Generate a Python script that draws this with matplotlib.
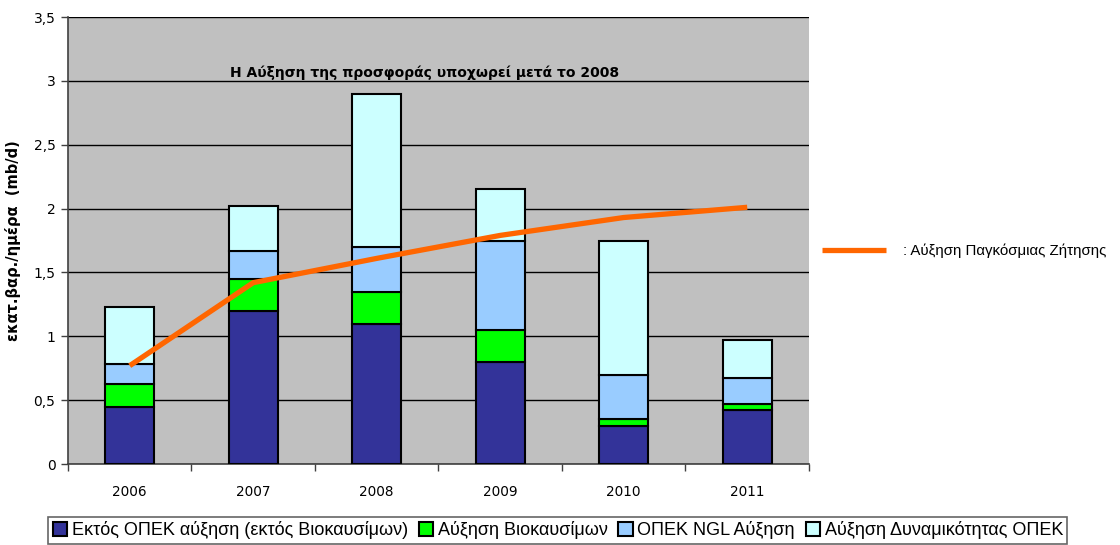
import numpy as np
import matplotlib
matplotlib.use("Agg")
from matplotlib import pyplot as plt
from matplotlib.ticker import FixedLocator, FuncFormatter

years = ["2006", "2007", "2008", "2009", "2010", "2011"]
non_opec = [0.45, 1.20, 1.10, 0.80, 0.30, 0.42]
biofuels = [0.18, 0.25, 0.25, 0.25, 0.05, 0.05]
opec_ngl = [0.15, 0.22, 0.35, 0.70, 0.35, 0.20]
opec_capacity = [0.45, 0.35, 1.20, 0.40, 1.05, 0.30]
demand = [0.77, 1.42, 1.61, 1.79, 1.93, 2.01]

series_labels = ["Εκτός ΟΠΕΚ αύξηση (εκτός Βιοκαυσίμων)", "Αύξηση Βιοκαυσίμων",
                 "ΟΠΕΚ NGL Αύξηση", "Αύξηση Δυναμικότητας ΟΠΕΚ"]
colors = ["#333399", "#00FF00", "#99CCFF", "#CCFFFF"]

fig = plt.figure(figsize=(11.2, 5.45), dpi=100)
ax = fig.add_axes([0.0607, 0.1486, 0.6616, 0.8202])
ax.set_facecolor("#C0C0C0")

x = np.arange(len(years))
bottom = np.zeros(len(years))
handles = []
for vals, col, lab in zip([non_opec, biofuels, opec_ngl, opec_capacity], colors, series_labels):
    b = ax.bar(x, vals, 0.4, bottom=bottom, color=col, edgecolor="black", linewidth=1.5, label=lab, zorder=3)
    handles.append(b)
    bottom += np.array(vals)

line, = ax.plot(x, demand, color="#FF6600", linewidth=3.8, zorder=4, solid_capstyle="butt")

ax.set_xlim(-0.5, len(years) - 0.5)
ax.set_ylim(0, 3.5)
ax.set_yticks(np.arange(0, 3.51, 0.5))
ax.yaxis.set_major_formatter(FuncFormatter(lambda v, p: ("%g" % v).replace(".", ",")))
ax.yaxis.grid(True, color="black", linewidth=1.0, zorder=1)
ax.set_axisbelow(True)

ax.set_xticks(x)
ax.set_xticklabels(years)
ax.tick_params(axis="x", which="major", length=0, pad=15, labelsize=9.8)
ax.xaxis.set_minor_locator(FixedLocator(np.arange(-0.5, len(years), 1.0)))
ax.tick_params(axis="x", which="minor", length=5, width=1, color="#404040")
ax.tick_params(axis="y", length=5, width=1, color="#404040", labelsize=10, pad=4)

for s in ["top", "right"]:
    ax.spines[s].set_visible(False)
ax.spines["left"].set_color("#404040")
ax.spines["bottom"].set_color("#404040")
ax.spines["left"].set_linewidth(1.2)
ax.spines["bottom"].set_linewidth(1.2)

ax.set_ylabel("εκατ.βαρ./ημέρα  (mb/d)", fontsize=10.5, fontweight="bold", labelpad=9)

ax.text(2.39, 3.01, "Η Αύξηση της προσφοράς υποχωρεί μετά το 2008", ha="center", va="bottom",
        fontsize=10, fontweight="bold", zorder=5)

# demand legend on the right
fig.legend([line], [": Αύξηση Παγκόσμιας Ζήτησης"], loc="center left",
           bbox_to_anchor=(0.722, 0.54), frameon=False, handlelength=4.25, handletextpad=1.15,
           borderpad=0.4, prop={"family": "Liberation Sans", "size": 10.8})

leg = fig.legend(handles, series_labels, loc="upper left", bbox_to_anchor=(0.043, 0.052),
                 ncol=4, frameon=True, fancybox=False, edgecolor="#404040",
                 handlelength=0.8, handleheight=0.8, handletextpad=0.25, columnspacing=0.6,
                 borderpad=0.25, borderaxespad=0,
                 prop={"family": "Liberation Sans", "size": 13})
leg.get_frame().set_linewidth(1.2)

fig.savefig("out.png", dpi=100)
